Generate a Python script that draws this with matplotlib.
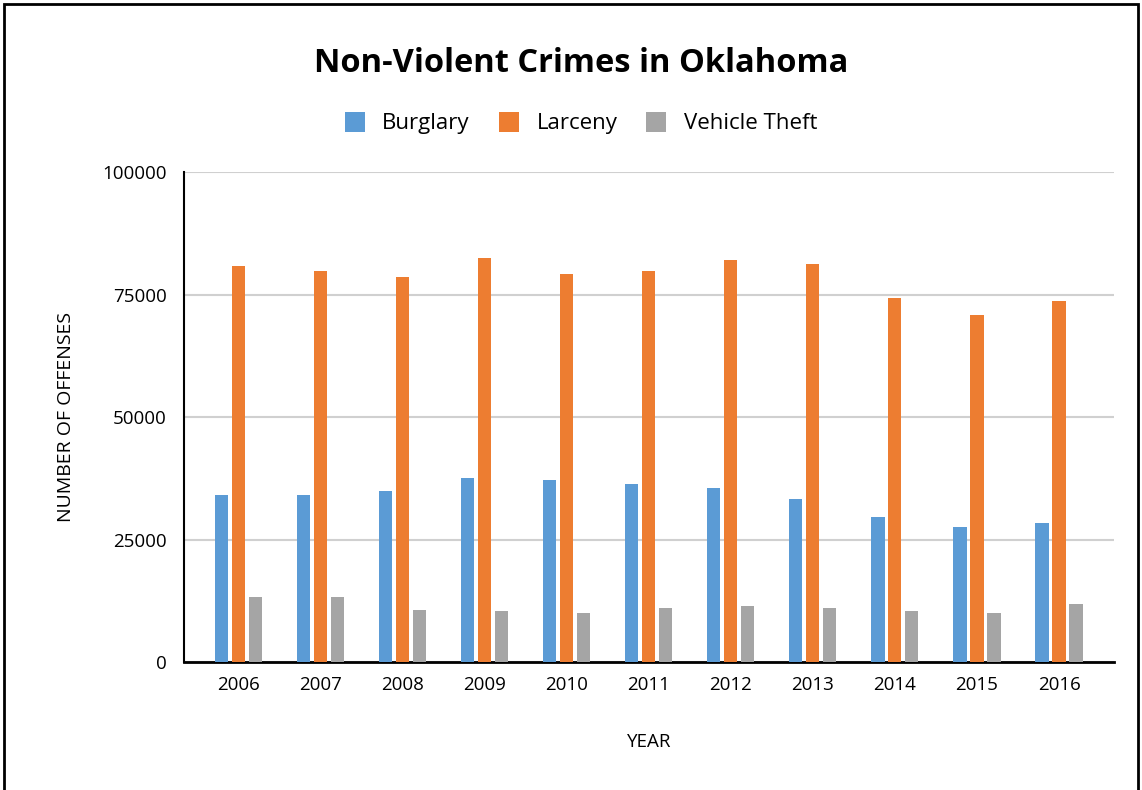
import numpy as np
import matplotlib
matplotlib.use("Agg")
import matplotlib.pyplot as plt
from matplotlib.patches import Rectangle, Patch

plt.rcParams['font.family'] = ['Open Sans', 'DejaVu Sans']

years = ['2006', '2007', '2008', '2009', '2010', '2011', '2012', '2013', '2014', '2015', '2016']
burglary = [34100, 34100, 34900, 37600, 37200, 36400, 35600, 33400, 29600, 27700, 28400]
larceny = [80900, 79800, 78600, 82400, 79300, 79800, 82100, 81300, 74400, 70900, 73600]
vehicle_theft = [13400, 13400, 10700, 10400, 10000, 11100, 11500, 11100, 10400, 10000, 11900]

series = [('Burglary', burglary, '#5B9BD5'),
          ('Larceny', larceny, '#ED7D31'),
          ('Vehicle Theft', vehicle_theft, '#A5A5A5')]

fig = plt.figure(figsize=(11.42, 7.9), dpi=100)
ax = fig.add_axes([0.1607, 0.1614, 0.8148, 0.6209])

x = np.arange(len(years))
w = 0.16
step = 0.207
for i, (name, vals, col) in enumerate(series):
    ax.bar(x + (i - 1) * step, vals, width=w, color=col, label=name, zorder=3)

ax.set_xlim(-0.67, len(years) - 1 + 0.67)
ax.set_ylim(0, 100000)
ax.set_yticks([0, 25000, 50000, 75000, 100000])
ax.set_yticklabels(['0', '25000', '50000', '75000', '100000'])
ax.set_xticks(x)
ax.set_xticklabels(years)
ax.tick_params(axis='both', length=0, labelsize=13.5, colors='black')
ax.tick_params(axis='y', pad=12)
ax.tick_params(axis='x', pad=10)
ax.grid(axis='y', color='#d0d0d0', linewidth=1.5, zorder=0)

for s in ['top', 'right']:
    ax.spines[s].set_visible(False)
ax.spines['left'].set_linewidth(1.5)
ax.spines['bottom'].set_linewidth(2)

ax.set_ylabel('NUMBER OF OFFENSES', fontsize=14, labelpad=20)
ax.set_xlabel('YEAR', fontsize=13.5, labelpad=28)

fig.text(581 / 1142, 1 - 63 / 790, 'Non-Violent Crimes in Oklahoma',
         ha='center', va='center', fontsize=23.5, fontweight='bold')

handles = [Patch(facecolor=c, label=n) for n, _, c in series]
fig.legend(handles=handles, loc='center', bbox_to_anchor=(581 / 1142, 1 - 123 / 790),
           ncol=3, frameon=False, fontsize=16, handlelength=0.9, handleheight=1.0,
           handletextpad=0.8, columnspacing=1.3)

fig.patches.append(Rectangle((4 / 1142, -0.05), 1134 / 1142, 1.05 - 4 / 790,
                             transform=fig.transFigure, fill=False,
                             edgecolor='black', linewidth=2))

fig.savefig('out.png', dpi=100)
